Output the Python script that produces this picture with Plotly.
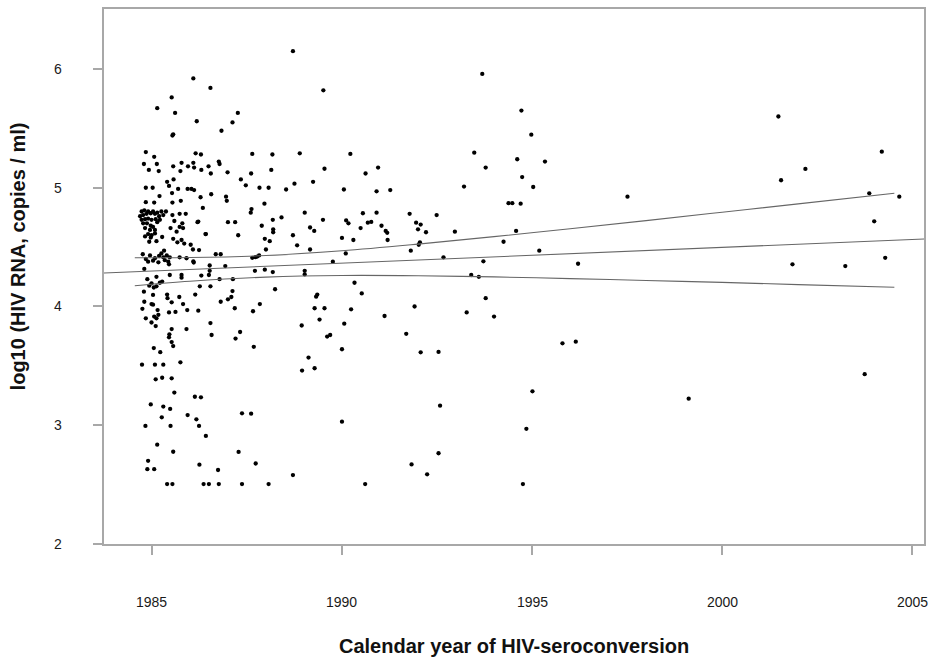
import plotly.graph_objects as go

# ---- scatter data: calendar year of seroconversion vs log10 HIV RNA ----
year = [
    # high values
    1988.71, 1986.09, 1986.54, 1989.51, 1985.14, 1985.52, 1985.61, 1987.26, 1986.18, 1986.83,
    1987.12, 1985.54, 1985.56,
    # 4.85 - 5.3, before 1991
    1984.84, 1985.06, 1984.79, 1985.13, 1984.92, 1985.18, 1985.56, 1985.78, 1985.75, 1985.95,
    1986.09, 1986.11, 1986.15, 1986.29, 1986.30, 1986.49, 1986.55, 1986.76, 1986.78, 1986.99,
    1987.64, 1987.61, 1987.34, 1987.47, 1985.40, 1985.57, 1985.45, 1984.84, 1985.02, 1985.53,
    1985.69, 1985.94, 1986.04, 1986.11, 1985.20, 1985.54, 1985.76, 1986.28, 1986.56, 1986.95,
    1986.97, 1984.84, 1985.06, 1986.34, 1987.62, 1987.60, 1988.17, 1988.14, 1988.89, 1989.54,
    1990.22, 1990.62, 1990.95, 1988.75, 1989.24, 1987.83, 1988.07, 1988.53, 1990.05, 1990.91,
    1987.96,
    # 4.4 - 4.8, 1986 - 1991
    1987.00, 1987.19, 1986.20, 1986.41, 1987.27, 1987.89, 1988.18, 1988.19, 1988.19, 1988.41,
    1987.97, 1988.10, 1988.00, 1988.71, 1988.82, 1989.02, 1989.16, 1989.16, 1989.27, 1989.50,
    1990.00, 1990.11, 1990.17, 1990.30, 1990.49, 1990.55, 1990.68, 1990.77, 1990.91, 1991.04,
    1991.15, 1991.19, 1991.20, 1990.10, 1989.76,
    # dense cluster 1984.7 - 1986
    1984.73, 1984.80, 1984.90, 1985.03, 1985.14, 1985.25, 1985.37, 1984.69, 1984.77, 1984.86,
    1984.97, 1985.08, 1985.19, 1985.30, 1984.73, 1984.82, 1984.90, 1984.99, 1985.10, 1985.21,
    1984.77, 1984.87, 1984.97, 1985.03, 1985.14, 1984.82, 1984.95, 1985.08, 1984.90, 1984.99,
    1985.08, 1984.82, 1984.97, 1985.27, 1984.93, 1985.12, 1985.54, 1985.73, 1985.89, 1985.59,
    1985.80, 1985.49, 1985.73, 1985.82, 1985.65, 1985.56, 1985.78, 1985.85, 1985.67, 1986.22,
    1986.02, 1986.08, 1986.24, 1986.42,
    # around the fitted line
    1984.76, 1984.95, 1985.08, 1985.19, 1985.25, 1985.32, 1985.30, 1985.39, 1985.47, 1985.34,
    1985.43, 1984.84, 1984.90, 1985.03, 1985.17, 1985.45, 1985.73, 1985.91, 1986.10, 1986.09,
    1986.68, 1986.81, 1986.52, 1986.52, 1986.93, 1984.80, 1985.47, 1985.78, 1985.78, 1986.30,
    1986.50, 1986.78, 1987.64, 1987.72, 1987.77, 1987.82, 1987.71, 1987.97, 1988.18, 1987.13,
    1986.54, 1986.14, 1986.26, 1986.81, 1987.00, 1987.12, 1987.09, 1987.18, 1986.54,
    # 2.5 - 4.25, 1984.7 - 1988
    1984.88, 1985.12, 1985.27, 1984.99, 1985.12, 1985.21, 1984.93, 1985.05, 1984.79, 1985.03,
    1984.99, 1984.80, 1985.40, 1985.41, 1985.52, 1985.72, 1985.82, 1985.03, 1984.75, 1985.15,
    1985.17, 1984.84, 1985.06, 1985.12, 1984.99, 1985.10, 1985.45, 1985.62, 1985.93, 1986.22,
    1987.66, 1985.52, 1985.46, 1985.45, 1985.52, 1985.56, 1985.91, 1986.57, 1987.32, 1987.20,
    1987.68, 1985.05, 1985.22, 1984.74, 1985.08, 1985.30, 1985.75, 1985.10, 1985.27, 1985.52,
    1985.59, 1986.13, 1986.29, 1984.97, 1985.30, 1985.48, 1985.26, 1985.94, 1986.17, 1986.24,
    1986.42, 1984.83, 1985.49, 1987.37, 1987.61, 1985.14, 1985.56, 1987.28, 1984.90, 1984.88,
    1985.06, 1986.25, 1986.74, 1987.73, 1985.40, 1985.54, 1986.36, 1986.50, 1986.76, 1987.37,
    1988.07, 1988.71, 1990.61,
    # 1988 - 1991, lower values
    1988.24, 1987.84, 1989.02, 1989.02, 1989.32, 1989.35, 1989.28, 1989.54, 1989.41, 1988.94,
    1989.12, 1988.95, 1989.28, 1989.61, 1989.69, 1990.00, 1990.06, 1990.24, 1990.00, 1991.12,
    1990.33, 1990.52,
    # 1991 - 1998
    1993.69, 1994.72, 1994.98, 1993.48, 1994.61, 1995.34, 1993.78, 1991.27, 1993.21, 1994.74,
    1995.03, 1997.51, 1994.38, 1994.48, 1994.70, 1991.78, 1992.49, 1991.95, 1992.07, 1992.00,
    1992.21, 1992.97, 1994.58, 1992.02, 1992.05, 1991.81, 1994.25, 1995.19, 1992.67, 1993.72,
    1996.21, 1993.40, 1993.60, 1993.78, 1991.91, 1993.28, 1994.00, 1991.69, 1992.07, 1992.54,
    1995.80, 1996.15, 1995.01, 1992.58, 1994.85, 1992.54, 1991.83, 1992.24, 1994.76,
    # 1999 - 2005
    2001.48, 2004.20, 2002.19, 2001.55, 2003.87, 2004.66, 2004.00, 2001.85, 2003.24, 2004.29,
    1999.12, 2003.75,
]

rna = [
    6.15, 5.92, 5.84, 5.82, 5.67, 5.76, 5.63, 5.63, 5.56, 5.48,
    5.55, 5.44, 5.45,
    5.30, 5.26, 5.20, 5.20, 5.15, 5.14, 5.18, 5.21, 5.14, 5.18,
    5.21, 5.17, 5.29, 5.28, 5.15, 5.18, 5.12, 5.22, 5.20, 5.13,
    5.285, 5.12, 5.07, 5.02, 5.05, 5.07, 5.015, 5.00, 5.00, 4.955,
    4.99, 4.99, 4.99, 4.98, 4.93, 4.875, 4.89, 4.92, 4.945, 4.925,
    4.89, 4.878, 4.875, 4.83, 4.82, 4.79, 5.28, 5.15, 5.29, 5.16,
    5.285, 5.12, 5.17, 5.034, 5.05, 5.00, 5.00, 4.985, 4.985, 4.97,
    4.866,
    4.71, 4.71, 4.71, 4.61, 4.60, 4.68, 4.73, 4.65, 4.625, 4.75,
    4.57, 4.55, 4.48, 4.60, 4.515, 4.79, 4.48, 4.665, 4.636, 4.73,
    4.577, 4.725, 4.70, 4.56, 4.66, 4.785, 4.706, 4.712, 4.79, 4.68,
    4.636, 4.62, 4.56, 4.447, 4.377,
    4.80, 4.81, 4.80, 4.80, 4.79, 4.80, 4.80, 4.76, 4.77, 4.78,
    4.785, 4.78, 4.76, 4.77, 4.73, 4.735, 4.74, 4.73, 4.735, 4.73,
    4.70, 4.70, 4.68, 4.67, 4.71, 4.66, 4.645, 4.645, 4.61, 4.60,
    4.615, 4.59, 4.58, 4.585, 4.545, 4.55, 4.77, 4.78, 4.78, 4.72,
    4.70, 4.66, 4.67, 4.66, 4.63, 4.57, 4.56, 4.53, 4.54, 4.715,
    4.52, 4.48, 4.475, 4.61,
    4.44, 4.43, 4.406, 4.425, 4.447, 4.47, 4.414, 4.43, 4.414, 4.39,
    4.377, 4.40, 4.377, 4.386, 4.372, 4.355, 4.414, 4.406, 4.37, 4.38,
    4.44, 4.44, 4.345, 4.30, 4.34, 4.316, 4.265, 4.265, 4.243, 4.26,
    4.265, 4.23, 4.41, 4.415, 4.42, 4.43, 4.30, 4.31, 4.29, 4.23,
    4.17, 4.10, 4.17, 4.04, 4.06, 4.13, 4.08, 3.985, 3.86,
    4.23, 4.25, 4.21, 4.195, 4.17, 4.20, 4.175, 4.16, 4.125, 4.097,
    4.02, 4.04, 4.10, 4.07, 4.035, 4.08, 4.02, 4.015, 3.98, 3.97,
    3.93, 3.90, 3.915, 3.90, 3.865, 3.835, 3.95, 3.954, 3.97, 3.965,
    3.96, 3.81, 3.766, 3.74, 3.70, 3.667, 3.81, 3.76, 3.785, 3.73,
    3.66, 3.65, 3.615, 3.51, 3.51, 3.51, 3.53, 3.387, 3.40, 3.395,
    3.275, 3.24, 3.235, 3.175, 3.157, 3.137, 3.067, 3.086, 3.05, 2.994,
    2.91, 2.994, 2.994, 3.10, 3.097, 2.836, 2.777, 2.775, 2.70, 2.63,
    2.63, 2.668, 2.623, 2.678, 2.505, 2.505, 2.505, 2.505, 2.505, 2.505,
    2.505, 2.58, 2.505,
    4.145, 4.02, 4.30, 4.27, 4.083, 4.10, 3.985, 3.985, 3.89, 3.84,
    3.57, 3.46, 3.48, 3.747, 3.76, 3.64, 3.855, 3.976, 3.03, 3.92,
    4.20, 4.11,
    5.958, 5.65, 5.447, 5.295, 5.24, 5.22, 5.17, 4.98, 5.01, 5.09,
    5.006, 4.925, 4.87, 4.87, 4.866, 4.78, 4.77, 4.706, 4.69, 4.65,
    4.625, 4.63, 4.636, 4.52, 4.54, 4.47, 4.545, 4.47, 4.414, 4.38,
    4.36, 4.265, 4.25, 4.07, 4.00, 3.95, 3.915, 3.77, 3.614, 3.617,
    3.69, 3.704, 3.286, 3.165, 2.97, 2.764, 2.67, 2.587, 2.505,
    5.60, 5.304, 5.158, 5.063, 4.953, 4.925, 4.717, 4.355, 4.34, 4.41,
    3.224, 3.43,
]

# ---- fitted regression line and its confidence band ----
fit_years = [1983.74, 2005.31]
fit_values = [4.282, 4.568]

ci_years = [1984.55, 1986, 1988, 1990, 1992, 1994, 1996, 1998, 2000, 2002, 2004.53]
ci_upper = [4.411, 4.412, 4.429, 4.469, 4.525, 4.588, 4.655, 4.723, 4.794, 4.864, 4.954]
ci_lower = [4.175, 4.212, 4.247, 4.261, 4.259, 4.249, 4.235, 4.219, 4.203, 4.184, 4.162]

x_ticks = [1985, 1990, 1995, 2000, 2005]
y_ticks = [2, 3, 4, 5, 6]

FONT = "Liberation Sans, Arial, sans-serif"
LINE_COL = "#666666"
AXIS_COL = "#a8a8a8"
TXT_COL = "#1a1a1a"

fig = go.Figure()
fig.add_trace(go.Scatter(x=year, y=rna, mode="markers",
                         marker=dict(size=4.3, color="black"),
                         showlegend=False, hoverinfo="x+y"))
fig.add_trace(go.Scatter(x=fit_years, y=fit_values, mode="lines",
                         line=dict(color=LINE_COL, width=1.1), showlegend=False))
fig.add_trace(go.Scatter(x=ci_years, y=ci_upper, mode="lines", line_shape="spline",
                         line=dict(color=LINE_COL, width=1.1), showlegend=False))
fig.add_trace(go.Scatter(x=ci_years, y=ci_lower, mode="lines", line_shape="spline",
                         line=dict(color=LINE_COL, width=1.1), showlegend=False))

# plot area: x 104..926, y 9..544 (height 535, width 822)
annotations = []
for v in x_ticks:
    annotations.append(dict(text=str(v), xref="x", yref="paper", x=v, y=-0.1084,
                            xanchor="center", yanchor="middle", showarrow=False,
                            font=dict(size=14, family=FONT, color=TXT_COL)))
for v in y_ticks:
    annotations.append(dict(text=str(v), xref="paper", yref="y", x=-0.056, y=v,
                            xanchor="center", yanchor="middle", showarrow=False,
                            font=dict(size=14, family=FONT, color=TXT_COL)))
annotations.append(dict(text="<b>Calendar year of HIV-seroconversion</b>", xref="paper", yref="paper",
                        x=0.5, y=-0.1907, xanchor="center", yanchor="middle", showarrow=False,
                        font=dict(size=20, family=FONT, color="#111111")))
annotations.append(dict(text="<b>log10 (HIV RNA, copies / ml)</b>", xref="paper", yref="paper",
                        x=-0.1046, y=0.538, xanchor="center", yanchor="middle", showarrow=False,
                        textangle=-90, font=dict(size=20, family=FONT, color="#111111")))

fig.update_layout(
    width=932, height=657,
    margin=dict(l=104, r=6, t=9, b=113),
    paper_bgcolor="white", plot_bgcolor="white",
    font=dict(family=FONT, color=TXT_COL, size=14),
    showlegend=False,
    xaxis=dict(range=[1983.74, 2005.31], tickvals=x_ticks, showticklabels=False,
               ticks="outside", ticklen=9, tickwidth=1.5, tickcolor=AXIS_COL,
               showline=True, linecolor=AXIS_COL, linewidth=2, mirror=True,
               showgrid=False, zeroline=False),
    yaxis=dict(range=[2.0, 6.505], tickvals=y_ticks, showticklabels=False,
               ticks="outside", ticklen=9, tickwidth=1.5, tickcolor=AXIS_COL,
               showline=True, linecolor=AXIS_COL, linewidth=2, mirror=True,
               showgrid=False, zeroline=False),
    annotations=annotations,
)

fig.write_html("out.html", config={"displayModeBar": False},
               post_script="document.body.style.margin='0';")
